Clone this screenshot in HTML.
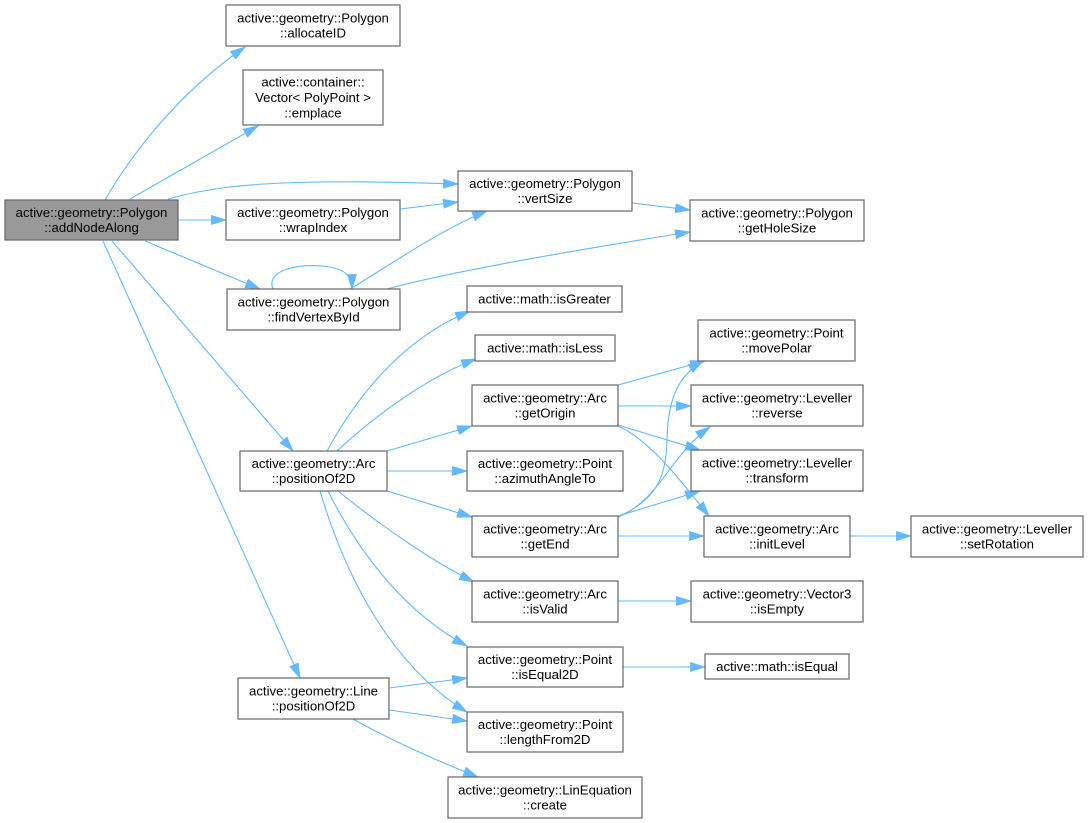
<!DOCTYPE html>
<html><head><meta charset="utf-8"><style>
html,body{margin:0;padding:0;background:#fff;}
svg{display:block;}
text{font-family:"Liberation Sans",Arial,sans-serif;font-size:13.2px;fill:#000;text-anchor:middle;}
.n{fill:#fff;stroke:#666;stroke-width:1.2;}
.r{fill:#999;stroke:#666;stroke-width:1.2;}
.e{fill:none;stroke:#63b8ff;stroke-width:1.1;}
</style></head><body>
<svg width="1088" height="823" viewBox="0 0 1088 823" xmlns="http://www.w3.org/2000/svg">
<defs>
<marker id="a" markerUnits="userSpaceOnUse" markerWidth="17" markerHeight="12" refX="15" refY="5" orient="auto">
<path d="M0.5,0.5 L15,5 L0.5,9.5 z" fill="#63b8ff" stroke="#63b8ff" stroke-width="0.8"/>
</marker>
</defs>

<!-- edges -->
<g class="edges">
<path class="e" marker-end="url(#a)" d="M105,200 C128,160 175,95 245,47"/>
<path class="e" marker-end="url(#a)" d="M130,199 L258,126"/>
<path class="e" marker-end="url(#a)" d="M168,199 C200,190 240,183 320,182 C380,181 420,183 458,184"/>
<path class="e" marker-end="url(#a)" d="M178,220 L226,220"/>
<path class="e" marker-end="url(#a)" d="M145,241 L260,289"/>
<path class="e" marker-end="url(#a)" d="M112,241 L293,451"/>
<path class="e" marker-end="url(#a)" d="M103,241 L300,678"/>
<path class="e" marker-end="url(#a)" d="M400,209 L458,202"/>
<path class="e" marker-end="url(#a)" d="M632,203 L690,210"/>
<path class="e" marker-end="url(#a)" d="M350,289 C390,265 440,230 487,211"/>
<path class="e" marker-end="url(#a)" d="M387,289 C420,280 500,262 690,232"/>
<path class="e" marker-end="url(#a)" d="M273,289 C265,270 300,262 330,267 C345,270 352,276 352,289"/>
<path class="e" marker-end="url(#a)" d="M327,451 C355,400 400,340 470,311"/>
<path class="e" marker-end="url(#a)" d="M337,451 C365,425 420,380 476,359"/>
<path class="e" marker-end="url(#a)" d="M387,451 L472,426"/>
<path class="e" marker-end="url(#a)" d="M387,471 L467,471"/>
<path class="e" marker-end="url(#a)" d="M387,491 L472,517"/>
<path class="e" marker-end="url(#a)" d="M338,491 C380,525 430,560 474,582"/>
<path class="e" marker-end="url(#a)" d="M328,491 C355,545 400,610 467,646"/>
<path class="e" marker-end="url(#a)" d="M320,491 C345,575 390,665 467,712"/>
<path class="e" marker-end="url(#a)" d="M389,688 L467,678"/>
<path class="e" marker-end="url(#a)" d="M389,710 L467,721"/>
<path class="e" marker-end="url(#a)" d="M353,719 C390,740 440,762 478,777"/>
<path class="e" marker-end="url(#a)" d="M618,385 L705,361"/>
<path class="e" marker-end="url(#a)" d="M618,406 L691,406"/>
<path class="e" marker-end="url(#a)" d="M618,425 L700,450"/>
<path class="e" marker-end="url(#a)" d="M618,426 C650,440 680,480 709,516"/>
<path class="e" marker-end="url(#a)" d="M618,517 C655,500 666,480 667,440 C668,395 680,375 703,361"/>
<path class="e" marker-end="url(#a)" d="M618,517 C660,500 670,455 710,427"/>
<path class="e" marker-end="url(#a)" d="M618,516 L700,491"/>
<path class="e" marker-end="url(#a)" d="M618,536 L704,536"/>
<path class="e" marker-end="url(#a)" d="M850,536 L911,536"/>
<path class="e" marker-end="url(#a)" d="M618,601 L691,601"/>
<path class="e" marker-end="url(#a)" d="M623,667 L705,667"/>
</g>

<!-- nodes -->
<rect class="r" x="5" y="200" width="173" height="40"/>
<text x="91.5" y="217">active::geometry::Polygon</text><text x="91.5" y="232">::addNodeAlong</text>

<rect class="n" x="226" y="5" width="174" height="41"/>
<text x="313" y="22.5">active::geometry::Polygon</text><text x="313" y="37.5">::allocateID</text>

<rect class="n" x="243" y="70" width="140" height="55"/>
<text x="313" y="86.5">active::container::</text><text x="313" y="102">Vector&lt; PolyPoint &gt;</text><text x="313" y="117.5">::emplace</text>

<rect class="n" x="226" y="200" width="174" height="40"/>
<text x="313" y="217">active::geometry::Polygon</text><text x="313" y="232">::wrapIndex</text>

<rect class="n" x="227" y="289" width="173" height="41"/>
<text x="313.5" y="306.5">active::geometry::Polygon</text><text x="313.5" y="321.5">::findVertexById</text>

<rect class="n" x="458" y="171" width="174" height="40"/>
<text x="545" y="188">active::geometry::Polygon</text><text x="545" y="203">::vertSize</text>

<rect class="n" x="690" y="200" width="174" height="41"/>
<text x="777" y="217.5">active::geometry::Polygon</text><text x="777" y="232.5">::getHoleSize</text>

<rect class="n" x="467" y="286" width="155" height="26"/>
<text x="544.5" y="303.5">active::math::isGreater</text>

<rect class="n" x="475" y="335" width="140" height="26"/>
<text x="545" y="352.5">active::math::isLess</text>

<rect class="n" x="698" y="320" width="157" height="41"/>
<text x="776.5" y="337.5">active::geometry::Point</text><text x="776.5" y="352.5">::movePolar</text>

<rect class="n" x="472" y="385" width="146" height="41"/>
<text x="545" y="402.5">active::geometry::Arc</text><text x="545" y="417.5">::getOrigin</text>

<rect class="n" x="691" y="385" width="172" height="41"/>
<text x="777" y="402.5">active::geometry::Leveller</text><text x="777" y="417.5">::reverse</text>

<rect class="n" x="240" y="451" width="147" height="40"/>
<text x="313.5" y="468">active::geometry::Arc</text><text x="313.5" y="483">::positionOf2D</text>

<rect class="n" x="467" y="451" width="156" height="40"/>
<text x="545" y="468">active::geometry::Point</text><text x="545" y="483">::azimuthAngleTo</text>

<rect class="n" x="691" y="450" width="172" height="41"/>
<text x="777" y="467.5">active::geometry::Leveller</text><text x="777" y="482.5">::transform</text>

<rect class="n" x="472" y="516" width="146" height="41"/>
<text x="545" y="533.5">active::geometry::Arc</text><text x="545" y="548.5">::getEnd</text>

<rect class="n" x="704" y="516" width="146" height="41"/>
<text x="777" y="533.5">active::geometry::Arc</text><text x="777" y="548.5">::initLevel</text>

<rect class="n" x="911" y="516" width="172" height="41"/>
<text x="997" y="533.5">active::geometry::Leveller</text><text x="997" y="548.5">::setRotation</text>

<rect class="n" x="472" y="581" width="146" height="41"/>
<text x="545" y="598.5">active::geometry::Arc</text><text x="545" y="613.5">::isValid</text>

<rect class="n" x="691" y="581" width="172" height="41"/>
<text x="777" y="598.5">active::geometry::Vector3</text><text x="777" y="613.5">::isEmpty</text>

<rect class="n" x="467" y="647" width="156" height="40"/>
<text x="545" y="664">active::geometry::Point</text><text x="545" y="679">::isEqual2D</text>

<rect class="n" x="705" y="654" width="144" height="25"/>
<text x="777" y="671">active::math::isEqual</text>

<rect class="n" x="238" y="678" width="151" height="41"/>
<text x="313.5" y="695.5">active::geometry::Line</text><text x="313.5" y="710.5">::positionOf2D</text>

<rect class="n" x="467" y="712" width="156" height="40"/>
<text x="545" y="729">active::geometry::Point</text><text x="545" y="744">::lengthFrom2D</text>

<rect class="n" x="448" y="777" width="194" height="41"/>
<text x="545" y="794.5">active::geometry::LinEquation</text><text x="545" y="809.5">::create</text>
</svg>
</body></html>
